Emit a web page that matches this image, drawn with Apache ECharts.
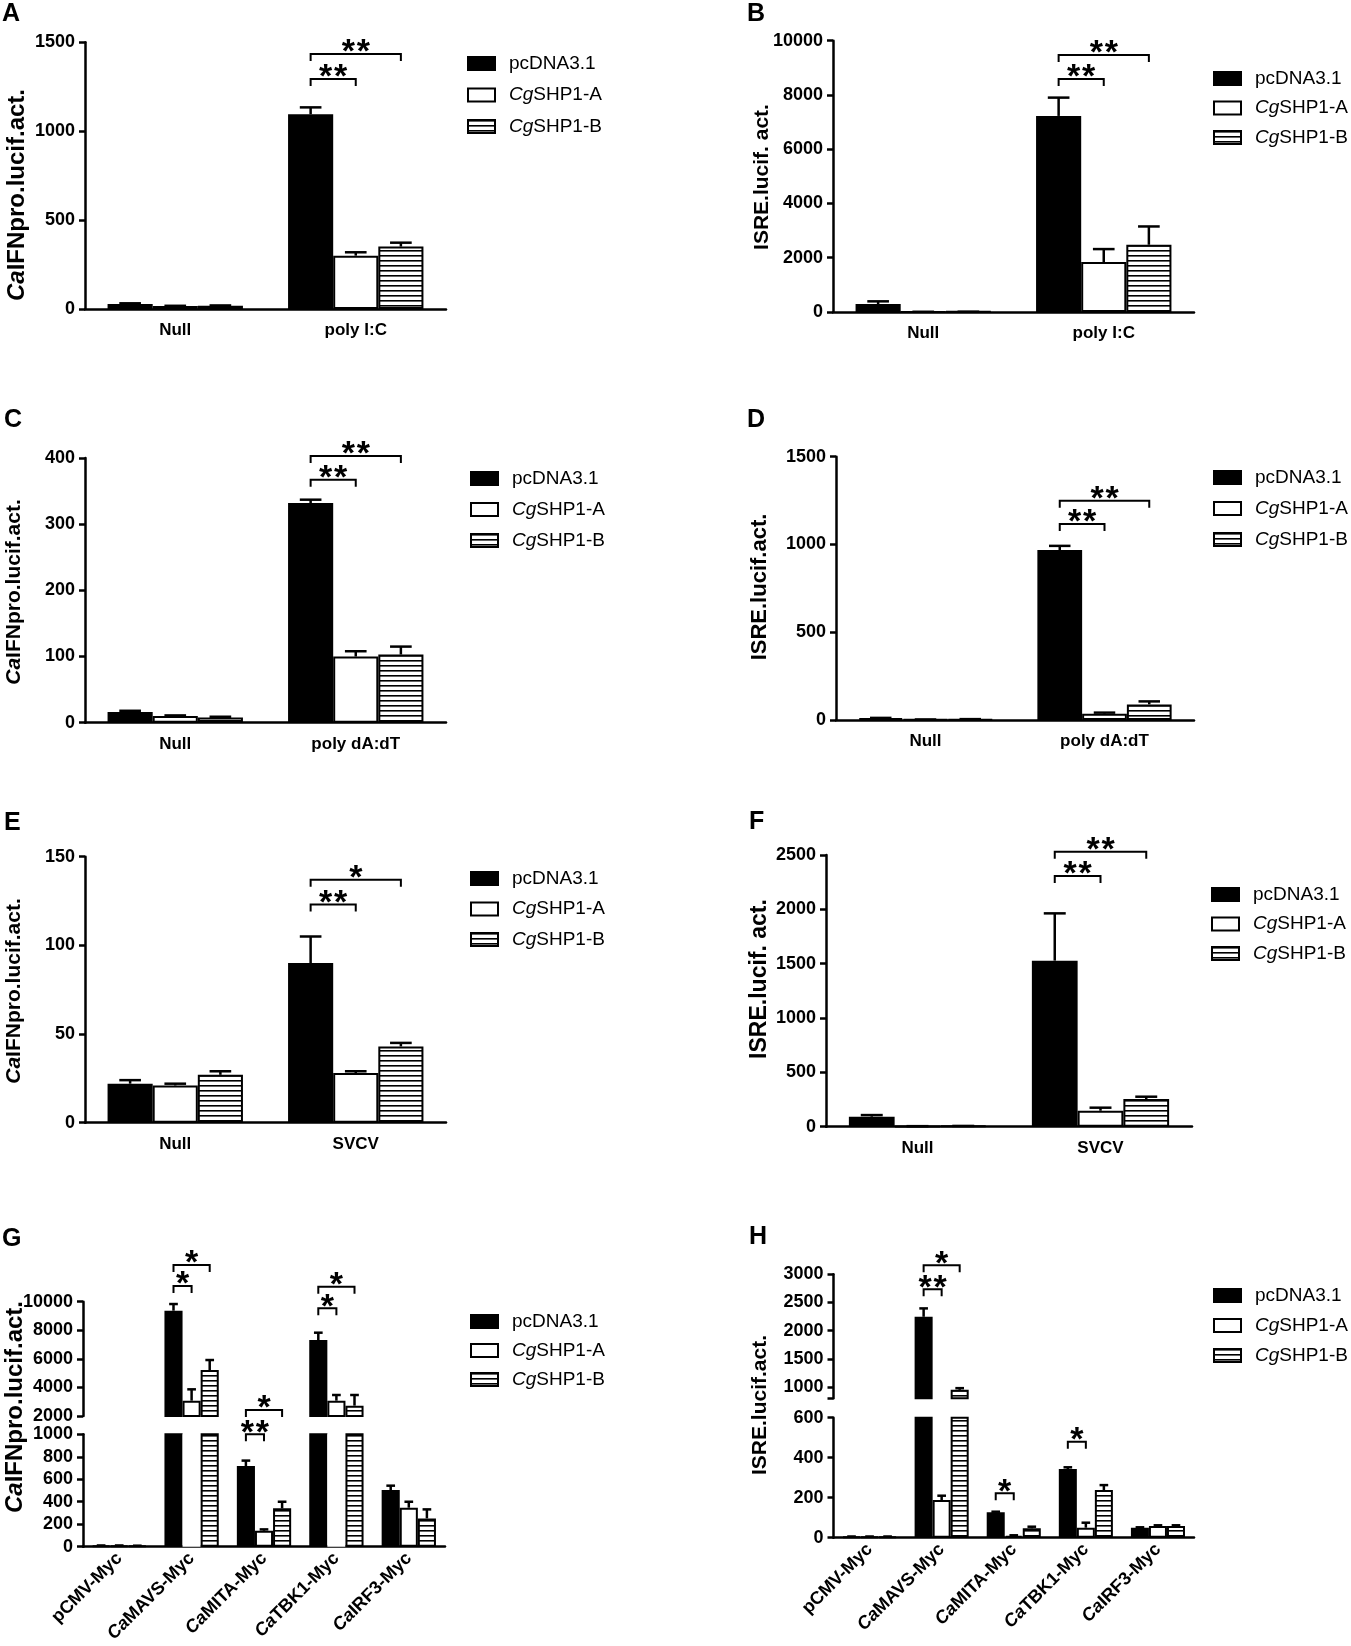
<!DOCTYPE html>
<html>
<head>
<meta charset="utf-8">
<script src="https://cdn.jsdelivr.net/npm/echarts@6.0.0/dist/echarts.min.js"></script>
<style>
  html, body { margin: 0; padding: 0; background: #fff; }
  #chart { width: 1351px; height: 1646px; }
</style>
</head>
<body>
<div id="chart"></div>
<script>
const FONT = "'Liberation Sans', Arial, Helvetica, sans-serif";
const groupNames = ['pcDNA3.1', 'CgSHP1-A', 'CgSHP1-B'];

// A - CaIFNpro, poly I:C
const catsA = ['Null', 'poly I:C'];
const pcdnaA = [28, 1095];
const shp1aA = [17, 300];
const shp1bA = [18, 351];
const errPcdnaA = [4, 39];
const errShp1aA = [1, 19];
const errShp1bA = [2, 22];
const sigA = [[1, 0, 1, 1294, '**'], [1, 0, 2, 1434, '**']];

// B - ISRE, poly I:C
const catsB = ['Null', 'poly I:C'];
const pcdnaB = [294, 7227];
const shp1aB = [8, 1840];
const shp1bB = [10, 2479];
const errPcdnaB = [99, 675];
const errShp1aB = [0, 479];
const errShp1bB = [0, 674];
const sigB = [[1, 0, 1, 8588, '**'], [1, 0, 2, 9473, '**']];

// C - CaIFNpro, poly dA:dT
const catsC = ['Null', 'poly dA:dT'];
const pcdnaC = [16, 332];
const shp1aC = [10, 100];
const shp1bC = [8, 103];
const errPcdnaC = [2, 5];
const errShp1aC = [1, 8];
const errShp1bC = [1, 12];
const sigC = [[1, 0, 1, 367, '**'], [1, 0, 2, 403, '**']];

// D - ISRE, poly dA:dT
const catsD = ['Null', 'poly dA:dT'];
const pcdnaD = [10, 968];
const shp1aD = [3, 36];
const shp1bD = [4, 89];
const errPcdnaD = [2, 24];
const errShp1aD = [0, 6];
const errShp1bD = [1, 17];
const sigD = [[1, 0, 1, 1117, '**'], [1, 0, 2, 1249, '**']];

// E - CaIFNpro, SVCV
const catsE = ['Null', 'SVCV'];
const pcdnaE = [22, 90];
const shp1aE = [21, 28];
const shp1bE = [27, 43];
const errPcdnaE = [2, 15];
const errShp1aE = [1, 1];
const errShp1bE = [2, 2];
const sigE = [[1, 0, 1, 123, '**'], [1, 0, 2, 137, '*']];

// F - ISRE, SVCV
const catsF = ['Null', 'SVCV'];
const pcdnaF = [92, 1528];
const shp1aF = [5, 147];
const shp1bF = [7, 255];
const errPcdnaF = [15, 435];
const errShp1aF = [0, 28];
const errShp1bF = [0, 21];
const sigF = [[1, 0, 1, 2307, '**'], [1, 0, 2, 2530, '**']];

// G - CaIFNpro, overexpression (broken axis)
const catsG = ['pCMV-Myc', 'CaMAVS-Myc', 'CaMITA-Myc', 'CaTBK1-Myc', 'CaIRF3-Myc'];
const pcdnaG = [10, 9370, 718, 7318, 504];
const shp1aG = [10, 3073, 142, 3073, 347];
const shp1bG = [8, 5219, 341, 2723, 252];
const errPcdnaG = [1, 467, 48, 513, 39];
const errShp1aG = [1, 793, 12, 397, 53];
const errShp1bG = [1, 699, 59, 747, 80];
const sigGUpper = [[1, 0, 1, 11099, '*'], [1, 0, 2, 12569, '*'], [2, 0, 2, 2420, '*'],
                   [3, 0, 1, 9538, '*'], [3, 0, 2, 11050, '*']];
const sigGLower = [[2, 0, 1, 1000, '**']];

// H - ISRE, overexpression (broken axis)
const catsH = ['pCMV-Myc', 'CaMAVS-Myc', 'CaMITA-Myc', 'CaTBK1-Myc', 'CaIRF3-Myc'];
const pcdnaH = [5, 2246, 127, 343, 50];
const shp1aH = [5, 188, 10, 50, 58];
const shp1bH = [5, 950, 47, 238, 58];
const errPcdnaH = [1, 149, 3, 9, 2];
const errShp1aH = [1, 22, 2, 25, 4];
const errShp1bH = [1, 30, 8, 25, 4];
const sigHUpper = [[1, 0, 1, 2733, '**'], [1, 0, 2, 3160, '*']];
const sigHLower = [[2, 0, 1, 222, '*'], [3, 0, 1, 480, '*']];

const ifnTitle = '{i|Ca}IFNpro.lucif.act.';

// layout of each panel (pixels), kept apart from the values
const panels = [
  { letter: 'A', lx: 2, ly: 2, title: ifnTitle, tSize: 24, tx: 17, ty: 195,
    cats: catsA, vals: [pcdnaA, shp1aA, shp1bA], errs: [errPcdnaA, errShp1aA, errShp1bA],
    legend: { left: 467, top: 54, gap: 12.5 },
    axes: [{ left: 85, top: 42.3, width: 361, height: 266.7, min: 0, max: 1500, interval: 500, sig: sigA }] },
  { letter: 'B', lx: 747, ly: 2, title: 'ISRE.lucif. act.', tSize: 21, tx: 762, ty: 177,
    cats: catsB, vals: [pcdnaB, shp1aB, shp1bB], errs: [errPcdnaB, errShp1aB, errShp1bB],
    legend: { left: 1213, top: 69, gap: 10.5 },
    axes: [{ left: 833, top: 40.7, width: 361, height: 271.3, min: 0, max: 10000, interval: 2000, sig: sigB }] },
  { letter: 'C', lx: 4, ly: 408, title: ifnTitle, tSize: 21, tx: 14, ty: 592,
    cats: catsC, vals: [pcdnaC, shp1aC, shp1bC], errs: [errPcdnaC, errShp1aC, errShp1bC],
    legend: { left: 470, top: 469, gap: 12 },
    axes: [{ left: 85, top: 458, width: 361, height: 264.7, min: 0, max: 400, interval: 100, sig: sigC }] },
  { letter: 'D', lx: 747, ly: 408, title: 'ISRE.lucif.act.', tSize: 22, tx: 760, ty: 587,
    cats: catsD, vals: [pcdnaD, shp1aD, shp1bD], errs: [errPcdnaD, errShp1aD, errShp1bD],
    legend: { left: 1213, top: 468, gap: 12 },
    axes: [{ left: 836, top: 456.7, width: 358, height: 263.3, min: 0, max: 1500, interval: 500, sig: sigD }] },
  { letter: 'E', lx: 4, ly: 811, title: ifnTitle, tSize: 21, tx: 14, ty: 991,
    cats: catsE, vals: [pcdnaE, shp1aE, shp1bE], errs: [errPcdnaE, errShp1aE, errShp1bE],
    legend: { left: 470, top: 869, gap: 11.5 },
    axes: [{ left: 85, top: 856.7, width: 361, height: 266, min: 0, max: 150, interval: 50, sig: sigE }] },
  { letter: 'F', lx: 749, ly: 810, title: 'ISRE.lucif. act.', tSize: 23, tx: 760, ty: 979,
    cats: catsF, vals: [pcdnaF, shp1aF, shp1bF], errs: [errPcdnaF, errShp1aF, errShp1bF],
    legend: { left: 1211, top: 885, gap: 10.5 },
    axes: [{ left: 826, top: 855, width: 366, height: 271.7, min: 0, max: 2500, interval: 500, sig: sigF }] },
  { letter: 'G', lx: 2, ly: 1227, title: ifnTitle, tSize: 24, tx: 15, ty: 1407, rotate: true,
    cats: catsG, vals: [pcdnaG, shp1aG, shp1bG], errs: [errPcdnaG, errShp1aG, errShp1bG],
    legend: { left: 470, top: 1312, gap: 10 },
    axes: [
      { left: 83, top: 1301.7, width: 362, height: 114.3, min: 2000, max: 10000, interval: 2000, sig: sigGUpper },
      { left: 83, top: 1434.3, width: 362, height: 112.4, min: 0, max: 1000, interval: 200, sig: sigGLower }
    ] },
  { letter: 'H', lx: 749, ly: 1225, title: 'ISRE.lucif.act.', tSize: 21, tx: 760, ty: 1405, rotate: true,
    cats: catsH, vals: [pcdnaH, shp1aH, shp1bH], errs: [errPcdnaH, errShp1aH, errShp1bH],
    legend: { left: 1213, top: 1286, gap: 11 },
    axes: [
      { left: 833.5, top: 1274.3, width: 360.5, height: 124, min: 800, max: 3000,
        labels: [1000, 1500, 2000, 2500, 3000], ticks: [800, 1000, 1500, 2000, 2500, 3000], sig: sigHUpper },
      { left: 833.5, top: 1417.7, width: 360.5, height: 120, min: 0, max: 600, interval: 200, sig: sigHLower }
    ] }
];

function stripePattern() {
  const c = document.createElement('canvas');
  c.width = 6;
  c.height = 5;
  const ctx = c.getContext('2d');
  ctx.fillStyle = '#fff';
  ctx.fillRect(0, 0, 6, 5);
  ctx.fillStyle = '#000';
  ctx.fillRect(0, 0, 6, 1.6);
  return { image: c, repeat: 'repeat' };
}

const barStyles = [
  { color: '#000', borderColor: '#000', borderWidth: 2 },
  { color: '#fff', borderColor: '#000', borderWidth: 2 },
  { color: stripePattern(), borderColor: '#000', borderWidth: 2 }
];

const italicCa = v => v.indexOf('Ca') === 0 ? '{i|Ca}' + v.slice(2) : v;

// bars are 25% category gap, no gap between bars -> centre offset of bar s
function barOffset(api, s) {
  const band = api.size([1, 0])[0];
  return (s - 1) * band * 0.75 / 3;
}

function renderError(params, api) {
  const cat = api.value(0), s = api.value(1), mean = api.value(2), err = api.value(3);
  const band = api.size([1, 0])[0];
  const bw = band * 0.75 / 3;
  const base = api.coord([cat, mean]);
  const top = api.coord([cat, mean + err]);
  const x = base[0] + barOffset(api, s);
  const cap = bw * 0.24;
  const st = { stroke: '#000', lineWidth: 2.5 };
  return {
    type: 'group',
    children: [
      { type: 'line', shape: { x1: x, y1: base[1], x2: x, y2: top[1] }, style: st },
      { type: 'line', shape: { x1: x - cap, y1: top[1], x2: x + cap, y2: top[1] }, style: st }
    ]
  };
}

function makeBracketRenderer(sig) {
  return function (params, api) {
    const cat = api.value(0), from = api.value(1), to = api.value(2), v = api.value(3);
    const p = api.coord([cat, v]);
    const x1 = p[0] + barOffset(api, from);
    const x2 = p[0] + barOffset(api, to);
    const y = p[1];
    const n = sig[params.dataIndex][4].length;
    const children = [
      { type: 'polyline', shape: { points: [[x1, y + 7], [x1, y], [x2, y], [x2, y + 7]] },
        style: { stroke: '#000', lineWidth: 2, fill: null } }
    ];
    for (let i = 0; i < n; i++) {
      children.push({ type: 'text', style: { text: '*', x: (x1 + x2) / 2 + (i - (n - 1) / 2) * 15, y: y - 1,
        align: 'center', verticalAlign: 'middle', fontSize: 34, fontWeight: 'bold',
        fontFamily: FONT, fill: '#000' } });
    }
    return { type: 'group', children };
  };
}

const axisLineStyle = { color: '#000', width: 2.5 };
const option = {
  animation: false,
  backgroundColor: '#fff',
  grid: [], xAxis: [], yAxis: [], series: [], legend: [], graphic: []
};

panels.forEach(p => {
  p.axes.forEach((ax, k) => {
    const gi = option.grid.length;
    const bottom = k === p.axes.length - 1;
    option.grid.push({ left: ax.left, top: ax.top, width: ax.width, height: ax.height,
      containLabel: false, outerBoundsMode: 'none' });

    option.xAxis.push({
      type: 'category', gridIndex: gi, data: p.cats, show: bottom,
      axisLine: { lineStyle: axisLineStyle },
      axisTick: { alignWithLabel: true, length: 7, lineStyle: axisLineStyle },
      axisLabel: {
        color: '#000', fontFamily: FONT, fontWeight: 'bold', fontSize: p.rotate ? 18 : 17,
        margin: p.rotate ? 9 : 13, rotate: p.rotate ? 45 : 0, interval: 0,
        formatter: italicCa,
        rich: { i: { fontStyle: 'italic', fontWeight: 'bold', fontSize: 18, fontFamily: FONT, color: '#000' } }
      }
    });

    const yAx = {
      type: 'value', gridIndex: gi, min: ax.min, max: ax.max,
      axisLine: { show: true, lineStyle: axisLineStyle },
      axisTick: { show: true, length: 6, lineStyle: axisLineStyle },
      axisLabel: { color: '#000', fontFamily: FONT, fontWeight: 'bold', fontSize: 18, margin: 10,
        formatter: v => String(v) },
      splitLine: { show: false }
    };
    if (ax.interval) yAx.interval = ax.interval;
    if (ax.labels) {
      yAx.axisLabel.customValues = ax.labels;
      yAx.axisTick.customValues = ax.ticks;
    }
    option.yAxis.push(yAx);

    p.vals.forEach((vals, s) => {
      // a white bar cut by the top of a lower segment has no visible top edge
      const data = vals.map(v => (s === 1 && v > ax.max) ? { value: v, itemStyle: { borderWidth: 0 } } : v);
      option.series.push({
        name: groupNames[s], type: 'bar', xAxisIndex: gi, yAxisIndex: gi,
        data, barGap: '0%', barCategoryGap: '25%',
        itemStyle: barStyles[s], silent: true, clip: true
      });
    });

    const errData = [];
    p.vals.forEach((vals, s) => {
      vals.forEach((v, c) => {
        if (v >= ax.min && v <= ax.max) errData.push([c, s, v, p.errs[s][c]]);
      });
    });
    option.series.push({
      type: 'custom', xAxisIndex: gi, yAxisIndex: gi, z: 3, silent: true,
      renderItem: renderError, encode: { x: 0, y: 2 }, data: errData
    });

    option.series.push({
      type: 'custom', xAxisIndex: gi, yAxisIndex: gi, z: 4, silent: true, clip: false,
      renderItem: makeBracketRenderer(ax.sig), encode: { x: 0, y: 3 },
      data: ax.sig.map(d => d.slice(0, 4))
    });
  });

  option.legend.push({
    orient: 'vertical', left: p.legend.left, top: p.legend.top, itemGap: p.legend.gap,
    itemWidth: 27, itemHeight: 13, icon: 'rect', selectedMode: false, padding: 0,
    data: groupNames,
    itemStyle: { borderColor: '#000', borderWidth: 2 },
    formatter: name => name.replace('Cg', '{i|Cg}'),
    textStyle: {
      color: '#000', fontFamily: FONT, fontSize: 19, padding: [0, 0, 0, 9],
      rich: { i: { fontStyle: 'italic', fontSize: 19, fontFamily: FONT, color: '#000' } }
    }
  });

  option.graphic.push({
    type: 'text', x: p.lx, y: p.ly,
    style: { text: p.letter, fontSize: 25, fontWeight: 'bold', fontFamily: FONT, fill: '#000',
      align: 'left', verticalAlign: 'top' }
  });
  option.graphic.push({
    type: 'text', x: p.tx, y: p.ty, rotation: Math.PI / 2,
    style: {
      text: p.title, fontSize: p.tSize, fontWeight: 'bold', fontFamily: FONT, fill: '#000',
      align: 'center', verticalAlign: 'middle',
      rich: { i: { fontStyle: 'italic', fontWeight: 'bold', fontSize: p.tSize, fontFamily: FONT, fill: '#000' } }
    }
  });
});

const chart = echarts.init(document.getElementById('chart'), null, { renderer: 'canvas' });
chart.setOption(option);
</script>
</body>
</html>
